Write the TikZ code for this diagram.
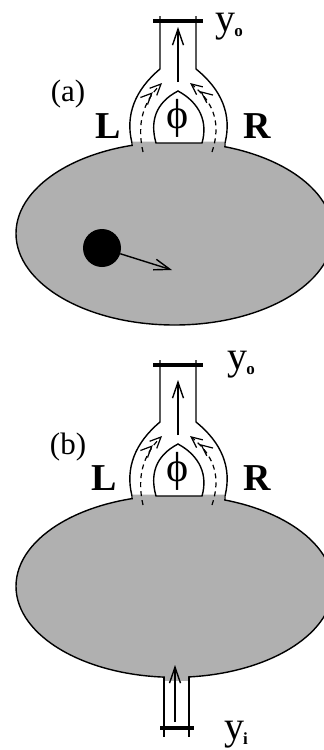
\documentclass[tikz,border=0pt]{standalone}
\usepackage{fontspec}
\setmainfont{Liberation Serif}
\usepackage{xcolor}
\usetikzlibrary{arrows.meta,positioning}
\definecolor{dotgray}{gray}{0.69}
\tikzset{
  wall/.style={draw=black, line width=1.4pt},
  barline/.style={draw=black, line width=3.4pt},
  farr/.style={-{Straight Barb[length=16pt,width=11pt]}, line width=1.4pt},
  edgearr/.style={dash pattern=on 5pt off 4pt, line width=1.2pt, -{Straight Barb[length=11pt,width=10pt,line width=1.2pt] Straight Barb[length=11pt,width=10pt,line width=1.2pt]}},
  plate/.style={wall, fill=dotgray},
  lbl/.style={inner sep=0pt, font=\fontsize{31}{33}\selectfont},
  armlbl/.style={inner sep=0pt, font=\fontsize{38}{40}\selectfont\bfseries},
  outlbl/.style={inner sep=0pt, font=\fontsize{40}{42}\selectfont}
}
\newcommand{\subo}[1]{\kern-1pt\raisebox{-5pt}{\fontsize{17}{17}\selectfont\bfseries #1}}
\begin{document}
\begin{tikzpicture}[x=1pt,y=-1pt]
\useasboundingbox (0,0) rectangle (324,750);
% the two dots
\path[plate] (174.5,233.5) ellipse [x radius=158.5, y radius=91.5];
\path[plate] (174.5,586.3) ellipse [x radius=158.5, y radius=91];
% lower lead of (b)
\fill[dotgray] (165,668) rectangle (188,681);
\draw[wall] (164,677) coordinate (li1) -- (164,737);
\draw[wall] (189,677) coordinate (li2) -- (189,737);
\draw[barline] (160,728) -- (194,728);
\draw[farr] (175,722) coordinate (iin) -- (175,665) coordinate (iout);
% upper interferometer, same for both panels
\foreach \dy/\bary in {0/21,353/12}{
\begin{scope}[yshift=-\dy pt]
\fill[dotgray] (133,141) rectangle (224,150);
\path[fill=white] (133,141.5) .. controls (125,115) and (135,90) .. (160,69) -- (160,16) -- (196,16) -- (196,69) .. controls (222,90) and (232,115) .. (224,141.5) -- cycle;
\draw[wall] (132,146) -- (132,143) .. controls (125,115) and (135,90) .. (160,69) -- (160,\bary-5);
\draw[wall] (225,147) -- (225,143) .. controls (232,115) and (222,90) .. (196,69) -- (196,\bary-5);
\draw[wall,fill=white] (156,143) .. controls (150,122) and (155,103) .. (178,91) .. controls (200,103) and (208,122) .. (202,143) -- cycle;
\draw[barline] (153,\bary) -- (203,\bary);
\draw[farr] (178,82) -- (178,27);
\draw[edgearr] (143,152) .. controls (137,125) and (142,103) .. (162,83);
\draw[edgearr] (212,152) .. controls (221,125) and (215,103) .. (190,83);
\node[inner sep=0pt, font=\fontsize{42}{44}\selectfont] (phi\dy) at (178,118) {ϕ};
\end{scope}
}
% ball and its velocity
\node[circle, fill=black, minimum size=38pt, inner sep=0pt] (ball) at (102,248) {};
\coordinate (vel) at (172,270);
\draw[farr] (ball) -- (vel);
% labels
\node[lbl] (tagA) at (68,94) {(a)};
\node[lbl] (tagB) at (68,447) {(b)};
\node[armlbl] (leftA) at (108,126) {L};
\node[armlbl] (rightA) at (257,126) {R};
\node[armlbl] (leftB) at (104,478) {L};
\node[armlbl] (rightB) at (257,478) {R};
\node[outlbl] (outA) at (229,27) {y\subo{o}};
\node[outlbl] (outB) at (241,365) {y\subo{o}};
\node[outlbl] (inB) at (236,735) {y\subo{i}};
\end{tikzpicture}
\end{document}
